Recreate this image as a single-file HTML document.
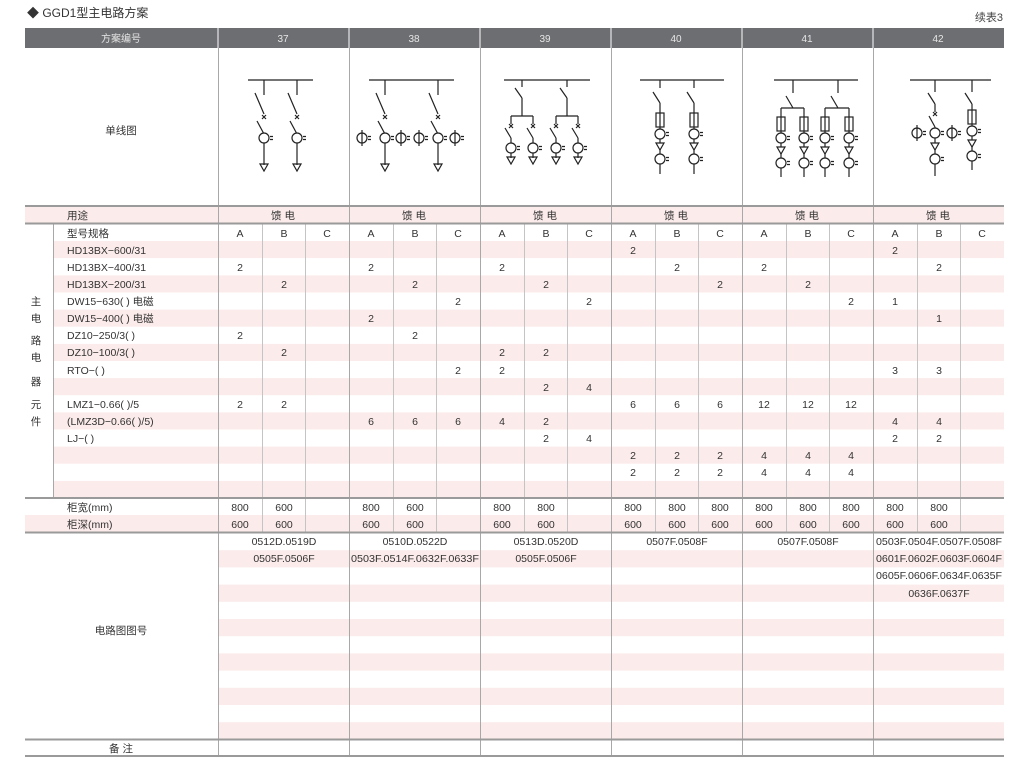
<!DOCTYPE html>
<html><head><meta charset="utf-8"><style>
html,body{margin:0;padding:0;background:#fff;}
svg{display:block;font-family:"Liberation Sans","Noto Sans CJK SC",sans-serif;}
</style></head><body>
<svg width="1034" height="766" viewBox="0 0 1034 766" xmlns="http://www.w3.org/2000/svg">
<defs>
<g id="ct"><circle cx="0" cy="0" r="5"/><path d="M6,-1.5h3M6,1.5h3"/></g>
<g id="ctv"><circle cx="0" cy="0" r="5"/><path d="M0,-8V8M6,-1.5h3M6,1.5h3"/></g>
<g id="tri"><path d="M-4,0L4,0L0,7Z"/></g>
<g id="xm"><path d="M-2,-2L2,2M2,-2L-2,2"/></g>
<g id="fu"><rect x="-4" y="-7" width="8" height="14"/><path d="M0,-7V7"/></g>
</defs>
<text x="27" y="17" font-size="12" fill="#333">◆ GGD1型主电路方案</text>
<text x="1003" y="21" font-size="11" fill="#444" text-anchor="end">续表3</text>

<!-- header -->
<rect x="25" y="28" width="979" height="20" fill="#6d6e71"/>
<g fill="#e6e6e6" font-size="10" text-anchor="middle">
<text x="121" y="42">方案编号</text><text x="283" y="42">37</text><text x="414" y="42">38</text><text x="545" y="42">39</text><text x="676" y="42">40</text><text x="807" y="42">41</text><text x="938" y="42">42</text>
</g>

<!-- pink bands -->
<g fill="#fcebeb">
<rect x="25" y="207" width="979" height="16"/>
<rect x="53" y="241" width="951" height="17.1"/>
<rect x="53" y="275.4" width="951" height="17.1"/>
<rect x="53" y="309.6" width="951" height="17.1"/>
<rect x="53" y="343.9" width="951" height="17.1"/>
<rect x="53" y="378.1" width="951" height="17.1"/>
<rect x="53" y="412.4" width="951" height="17.1"/>
<rect x="53" y="446.6" width="951" height="17.1"/>
<rect x="53" y="480.9" width="951" height="17.1"/>
<rect x="25" y="515" width="979" height="17"/>
<rect x="218" y="550.2" width="786" height="17.2"/>
<rect x="218" y="584.6" width="786" height="17.2"/>
<rect x="218" y="619" width="786" height="17.2"/>
<rect x="218" y="653.4" width="786" height="17.2"/>
<rect x="218" y="687.8" width="786" height="17.2"/>
<rect x="218" y="722.2" width="786" height="17.2"/>
</g>

<!-- lines -->
<g stroke="#fff" stroke-width="1"><path d="M218,28V48M349,28V48M480,28V48M611,28V48M742,28V48M873,28V48"/></g>
<g stroke="#a8a8a8" stroke-width="1">
<path d="M218.5,48V756M349.5,48V756M480.5,48V756M611.5,48V756M742.5,48V756M873.5,48V756"/>
<path d="M53.5,224V498"/>
</g>
<g stroke="#c4c4c4" stroke-width="1">
<path d="M262.5,224V532M305.5,224V532M393.5,224V532M436.5,224V532M524.5,224V532M567.5,224V532M655.5,224V532M698.5,224V532M786.5,224V532M829.5,224V532M917.5,224V532M960.5,224V532"/>
</g>
<g stroke="#9a9a9a" stroke-width="2">
<path d="M25,206H1004M25,223.5H1004M25,498H1004M25,532.5H1004M25,739.5H1004M25,756H1004"/>
</g>

<!-- labels -->
<g font-size="10.5" fill="#333">
<text x="121" y="134" text-anchor="middle">单线图</text>
<text x="67" y="219">用途</text>
<text x="67" y="237">型号规格</text>
<text x="67" y="254">HD13BX−600/31</text>
<text x="67" y="271">HD13BX−400/31</text>
<text x="67" y="288">HD13BX−200/31</text>
<text x="67" y="305">DW15−630( ) 电磁</text>
<text x="67" y="322">DW15−400( ) 电磁</text>
<text x="67" y="339">DZ10−250/3( )</text>
<text x="67" y="356">DZ10−100/3( )</text>
<text x="67" y="374">RTO−( )</text>
<text x="67" y="408">LMZ1−0.66( )/5</text>
<text x="67" y="425">(LMZ3D−0.66( )/5)</text>
<text x="67" y="442">LJ−( )</text>
<text x="67" y="511">柜宽(mm)</text>
<text x="67" y="528">柜深(mm)</text>
<text x="121" y="634" text-anchor="middle">电路图图号</text>
<text x="121" y="752" text-anchor="middle">备 注</text>
<g text-anchor="middle">
<text x="36" y="305">主</text><text x="36" y="322">电</text><text x="36" y="344">路</text><text x="36" y="361">电</text><text x="36" y="385">器</text><text x="36" y="408">元</text><text x="36" y="425">件</text>
<text x="283" y="219">馈 电</text><text x="414" y="219">馈 电</text><text x="545" y="219">馈 电</text><text x="676" y="219">馈 电</text><text x="807" y="219">馈 电</text><text x="938" y="219">馈 电</text>
</g>
</g>

<!-- data -->
<g font-size="10.5" fill="#333" text-anchor="middle">
<text x="240" y="237">A</text><text x="284" y="237">B</text><text x="327" y="237">C</text>
<text x="371" y="237">A</text><text x="415" y="237">B</text><text x="458" y="237">C</text>
<text x="502" y="237">A</text><text x="546" y="237">B</text><text x="589" y="237">C</text>
<text x="633" y="237">A</text><text x="677" y="237">B</text><text x="720" y="237">C</text>
<text x="764" y="237">A</text><text x="808" y="237">B</text><text x="851" y="237">C</text>
<text x="895" y="237">A</text><text x="939" y="237">B</text><text x="982" y="237">C</text>

<text x="633" y="254">2</text><text x="895" y="254">2</text>
<text x="240" y="271">2</text><text x="371" y="271">2</text><text x="502" y="271">2</text><text x="677" y="271">2</text><text x="764" y="271">2</text><text x="939" y="271">2</text>
<text x="284" y="288">2</text><text x="415" y="288">2</text><text x="546" y="288">2</text><text x="720" y="288">2</text><text x="808" y="288">2</text>
<text x="458" y="305">2</text><text x="589" y="305">2</text><text x="851" y="305">2</text><text x="895" y="305">1</text>
<text x="371" y="322">2</text><text x="939" y="322">1</text>
<text x="240" y="339">2</text><text x="415" y="339">2</text>
<text x="284" y="356">2</text><text x="502" y="356">2</text><text x="546" y="356">2</text>
<text x="458" y="374">2</text><text x="502" y="374">2</text><text x="895" y="374">3</text><text x="939" y="374">3</text>
<text x="546" y="391">2</text><text x="589" y="391">4</text>
<text x="240" y="408">2</text><text x="284" y="408">2</text><text x="633" y="408">6</text><text x="677" y="408">6</text><text x="720" y="408">6</text><text x="764" y="408">12</text><text x="808" y="408">12</text><text x="851" y="408">12</text>
<text x="371" y="425">6</text><text x="415" y="425">6</text><text x="458" y="425">6</text><text x="502" y="425">4</text><text x="546" y="425">2</text><text x="895" y="425">4</text><text x="939" y="425">4</text>
<text x="546" y="442">2</text><text x="589" y="442">4</text><text x="895" y="442">2</text><text x="939" y="442">2</text>
<text x="633" y="459">2</text><text x="677" y="459">2</text><text x="720" y="459">2</text><text x="764" y="459">4</text><text x="808" y="459">4</text><text x="851" y="459">4</text>
<text x="633" y="476">2</text><text x="677" y="476">2</text><text x="720" y="476">2</text><text x="764" y="476">4</text><text x="808" y="476">4</text><text x="851" y="476">4</text>

<text x="240" y="511">800</text><text x="284" y="511">600</text><text x="371" y="511">800</text><text x="415" y="511">600</text><text x="502" y="511">800</text><text x="546" y="511">800</text><text x="633" y="511">800</text><text x="677" y="511">800</text><text x="720" y="511">800</text><text x="764" y="511">800</text><text x="808" y="511">800</text><text x="851" y="511">800</text><text x="895" y="511">800</text><text x="939" y="511">800</text>
<text x="240" y="528">600</text><text x="284" y="528">600</text><text x="371" y="528">600</text><text x="415" y="528">600</text><text x="502" y="528">600</text><text x="546" y="528">600</text><text x="633" y="528">600</text><text x="677" y="528">600</text><text x="720" y="528">600</text><text x="764" y="528">600</text><text x="808" y="528">600</text><text x="851" y="528">600</text><text x="895" y="528">600</text><text x="939" y="528">600</text>

<text x="284" y="545">0512D.0519D</text><text x="284" y="562">0505F.0506F</text>
<text x="415" y="545">0510D.0522D</text><text x="415" y="562" textLength="128" lengthAdjust="spacingAndGlyphs">0503F.0514F.0632F.0633F</text>
<text x="546" y="545">0513D.0520D</text><text x="546" y="562">0505F.0506F</text>
<text x="677" y="545">0507F.0508F</text>
<text x="808" y="545">0507F.0508F</text>
<text x="939" y="545" textLength="126" lengthAdjust="spacingAndGlyphs">0503F.0504F.0507F.0508F</text>
<text x="939" y="562" textLength="126" lengthAdjust="spacingAndGlyphs">0601F.0602F.0603F.0604F</text>
<text x="939" y="579" textLength="126" lengthAdjust="spacingAndGlyphs">0605F.0606F.0634F.0635F</text>
<text x="939" y="597">0636F.0637F</text>
</g>

<!-- diagrams -->
<g stroke="#222" stroke-width="1.2" fill="none">
<!-- 37 -->
<path d="M248,80H313M264,80V95M297,80V95M255,93L264,114M288,93L297,114M257,121L264,134M290,121L297,134M264,134V165M297,134V165"/>
<use href="#xm" x="264" y="117"/><use href="#xm" x="297" y="117"/>
<use href="#ct" x="264" y="138" fill="#fff"/><use href="#ct" x="297" y="138" fill="#fff"/>
<use href="#tri" x="264" y="164"/><use href="#tri" x="297" y="164"/>
<!-- 38 -->
<path d="M369,80H454M385,80V95M438,80V95M376,93L385,114M429,93L438,114M378,121L385,134M431,121L438,134M385,134V165M438,134V165"/>
<use href="#xm" x="385" y="117"/><use href="#xm" x="438" y="117"/>
<use href="#ctv" x="362" y="138"/><use href="#ct" x="385" y="138" fill="#fff"/><use href="#ctv" x="401" y="138"/><use href="#ctv" x="419" y="138"/><use href="#ct" x="438" y="138" fill="#fff"/><use href="#ctv" x="455" y="138"/>
<use href="#tri" x="385" y="164"/><use href="#tri" x="438" y="164"/>
<!-- 39 -->
<path d="M504,80H590M522,80V87M567,80V87M515,88L522,98M560,88L567,98M522,98V116M567,98V116M511,116H533M556,116H578M511,116V124M533,116V124M556,116V124M578,116V124"/>
<path d="M505,128L511,138M527,128L533,138M550,128L556,138M572,128L578,138M511,138V158M533,138V158M556,138V158M578,138V158"/>
<use href="#xm" x="511" y="126"/><use href="#xm" x="533" y="126"/><use href="#xm" x="556" y="126"/><use href="#xm" x="578" y="126"/>
<use href="#ct" x="511" y="148" fill="#fff"/><use href="#ct" x="533" y="148" fill="#fff"/><use href="#ct" x="556" y="148" fill="#fff"/><use href="#ct" x="578" y="148" fill="#fff"/>
<use href="#tri" x="511" y="157"/><use href="#tri" x="533" y="157"/><use href="#tri" x="556" y="157"/><use href="#tri" x="578" y="157"/>
<!-- 40 -->
<path d="M640,80H724M660,80V88M694,80V88M653,92L660,103M687,92L694,103M660,103V174M694,103V174"/>
<use href="#fu" x="660" y="120" fill="#fff"/><use href="#fu" x="694" y="120" fill="#fff"/>
<use href="#ct" x="660" y="134" fill="#fff"/><use href="#ct" x="694" y="134" fill="#fff"/>
<use href="#tri" x="660" y="143" fill="#fff"/><use href="#tri" x="694" y="143" fill="#fff"/>
<use href="#ct" x="660" y="159" fill="#fff"/><use href="#ct" x="694" y="159" fill="#fff"/>
<!-- 41 -->
<path d="M774,80H858M793,80V93M838,80V93M786,96L793,108M831,96L838,108M781,108H804M825,108H849M781,108V177M804,108V177M825,108V177M849,108V177"/>
<use href="#fu" x="781" y="124" fill="#fff"/><use href="#fu" x="804" y="124" fill="#fff"/><use href="#fu" x="825" y="124" fill="#fff"/><use href="#fu" x="849" y="124" fill="#fff"/>
<use href="#ct" x="781" y="138" fill="#fff"/><use href="#ct" x="804" y="138" fill="#fff"/><use href="#ct" x="825" y="138" fill="#fff"/><use href="#ct" x="849" y="138" fill="#fff"/>
<use href="#tri" x="781" y="147" fill="#fff"/><use href="#tri" x="804" y="147" fill="#fff"/><use href="#tri" x="825" y="147" fill="#fff"/><use href="#tri" x="849" y="147" fill="#fff"/>
<use href="#ct" x="781" y="163" fill="#fff"/><use href="#ct" x="804" y="163" fill="#fff"/><use href="#ct" x="825" y="163" fill="#fff"/><use href="#ct" x="849" y="163" fill="#fff"/>
<!-- 42 -->
<path d="M910,80H991M935,80V92M972,80V92M928,93L935,104M965,93L972,104M935,104V112M929,116L935,127M935,127V176M972,104V170"/>
<use href="#xm" x="935" y="114"/>
<use href="#ctv" x="917" y="133"/><use href="#ct" x="935" y="133" fill="#fff"/><use href="#ctv" x="952" y="133"/>
<use href="#tri" x="935" y="143" fill="#fff"/><use href="#ct" x="935" y="159" fill="#fff"/>
<use href="#fu" x="972" y="117" fill="#fff"/><use href="#ct" x="972" y="131" fill="#fff"/><use href="#tri" x="972" y="140" fill="#fff"/><use href="#ct" x="972" y="156" fill="#fff"/>
</g>
</svg>
</body></html>
